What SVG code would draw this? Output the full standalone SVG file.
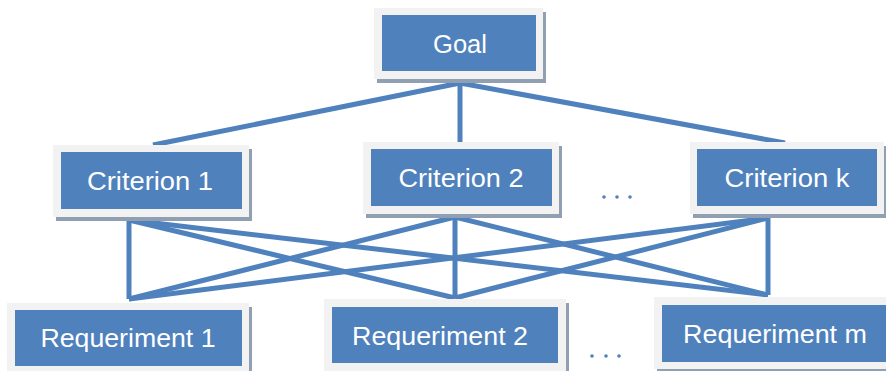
<svg xmlns="http://www.w3.org/2000/svg" width="886" height="371" viewBox="0 0 886 371">
<style>
.ln{stroke:#4f81bd;stroke-width:5;fill:none;stroke-linejoin:round}
.sh{fill:#919fb3}
.fr{fill:#f2f2f2}
.bx{fill:#4f81bd}
.tx{fill:#ffffff;font-family:"Liberation Sans",Arial,sans-serif;font-size:26px;text-anchor:middle}
.dot{fill:#4f81bd}
</style>
<rect width="886" height="371" fill="#ffffff"/>
<g id="connectors">
<line class="ln" x1="460" y1="83" x2="153" y2="145"/>
<line class="ln" x1="460" y1="83" x2="460" y2="143"/>
<line class="ln" x1="460" y1="83" x2="785" y2="143"/>
<line class="ln" x1="129" y1="220" x2="129" y2="299"/>
<line class="ln" x1="129" y1="220" x2="455" y2="298"/>
<line class="ln" x1="129" y1="220" x2="768" y2="295"/>
<line class="ln" x1="455" y1="217" x2="129" y2="299"/>
<line class="ln" x1="455" y1="217" x2="455" y2="298"/>
<line class="ln" x1="455" y1="217" x2="768" y2="295"/>
<line class="ln" x1="768" y1="218" x2="129" y2="299"/>
<line class="ln" x1="768" y1="218" x2="455" y2="298"/>
<line class="ln" x1="768" y1="218" x2="768" y2="295"/>
</g>
<g id="goal">
<rect class="sh" x="377" y="12" width="169" height="71"/>
<rect class="fr" x="374" y="8" width="169" height="71"/>
<rect class="bx" x="382" y="15" width="154" height="56"/>
<text class="tx" x="460" y="53" textLength="54" lengthAdjust="spacingAndGlyphs">Goal</text>
</g>
<g id="criterion1">
<rect class="sh" x="56" y="149" width="196" height="72"/>
<rect class="fr" x="53" y="145" width="196" height="72"/>
<rect class="bx" x="61" y="152" width="181" height="57"/>
<text class="tx" x="150" y="190" textLength="126" lengthAdjust="spacingAndGlyphs">Criterion 1</text>
</g>
<g id="criterion2">
<rect class="sh" x="366" y="146" width="196" height="72"/>
<rect class="fr" x="363" y="142" width="196" height="72"/>
<rect class="bx" x="371" y="149" width="181" height="57"/>
<text class="tx" x="461" y="187" textLength="125" lengthAdjust="spacingAndGlyphs">Criterion 2</text>
</g>
<g id="criterionk">
<rect class="sh" x="693" y="146" width="194" height="72"/>
<rect class="fr" x="690" y="142" width="194" height="72"/>
<rect class="bx" x="697" y="149" width="180" height="57"/>
<text class="tx" x="787" y="187" textLength="125" lengthAdjust="spacingAndGlyphs">Criterion k</text>
</g>
<g id="dots1">
<circle class="dot" cx="604" cy="197" r="1.8"/>
<circle class="dot" cx="617" cy="197" r="1.8"/>
<circle class="dot" cx="630" cy="197" r="1.8"/>
</g>
<g id="requeriment1">
<rect class="sh" x="10" y="307" width="242" height="72"/>
<rect class="fr" x="7" y="303" width="242" height="72"/>
<rect class="bx" x="15" y="310" width="227" height="56"/>
<text class="tx" x="128" y="347" textLength="175" lengthAdjust="spacingAndGlyphs">Requeriment 1</text>
</g>
<g id="requeriment2">
<rect class="sh" x="327" y="303" width="242" height="72"/>
<rect class="fr" x="324" y="299" width="242" height="72"/>
<rect class="bx" x="332" y="307" width="226" height="56"/>
<text class="tx" x="440" y="345" textLength="176" lengthAdjust="spacingAndGlyphs">Requeriment 2</text>
</g>
<g id="requerimentm">
<rect class="sh" x="657" y="301" width="240" height="72"/>
<rect class="fr" x="654" y="297" width="240" height="72"/>
<rect class="bx" x="662" y="305" width="230" height="57"/>
<text class="tx" x="775" y="343" textLength="184" lengthAdjust="spacingAndGlyphs">Requeriment m</text>
</g>
<g id="dots2">
<circle class="dot" cx="592" cy="356" r="1.8"/>
<circle class="dot" cx="606" cy="356" r="1.8"/>
<circle class="dot" cx="619" cy="356" r="1.8"/>
</g>
</svg>
